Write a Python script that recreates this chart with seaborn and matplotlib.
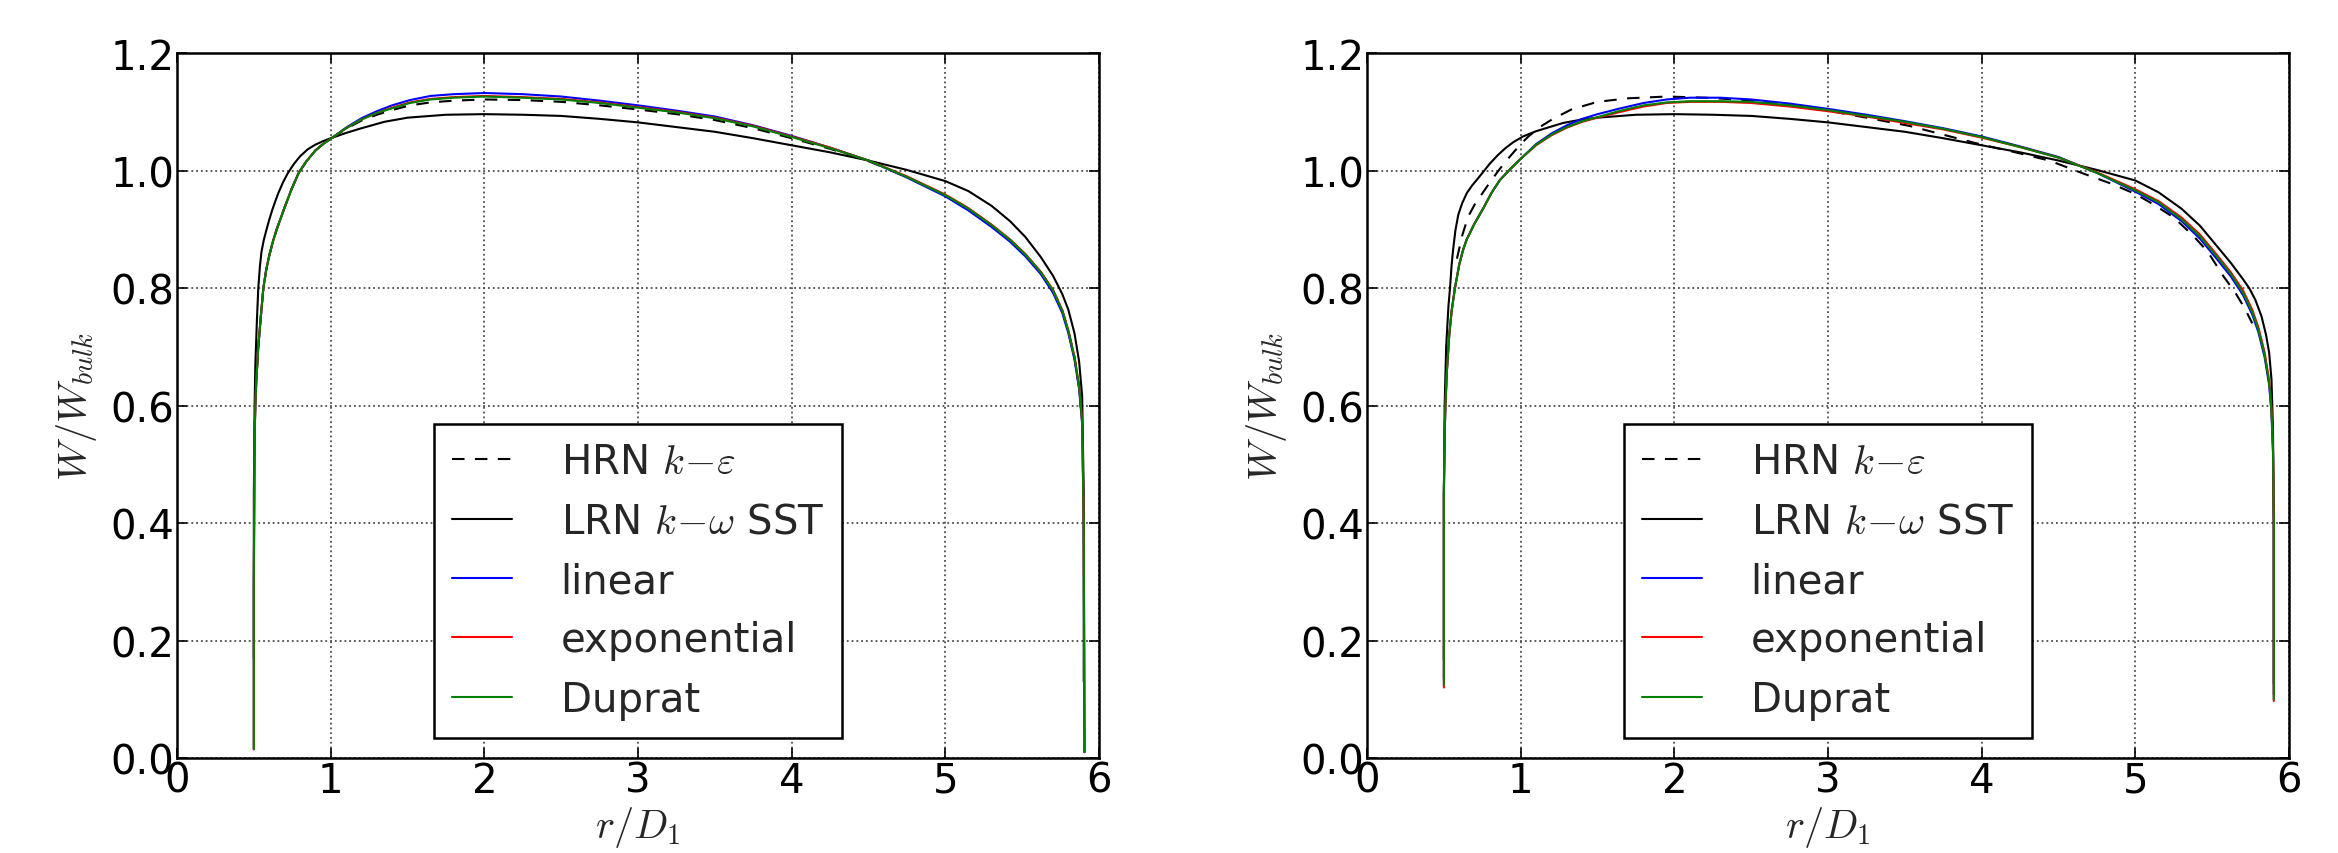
import matplotlib
matplotlib.use("Agg")
import matplotlib.pyplot as plt
import seaborn as sns

# radial positions r/D1 and profiles W/Wbulk
# ---- left panel ----
r_lrn_a = [0.50, 0.50, 0.505, 0.51, 0.514, 0.52, 0.529, 0.54, 0.55, 0.565, 0.583, 0.60,
           0.62, 0.64, 0.66, 0.69, 0.72, 0.76, 0.80, 0.85, 0.90, 0.95, 1.00, 1.10,
           1.20, 1.35, 1.50, 1.75, 2.00, 2.25, 2.50, 2.75, 3.00, 3.25, 3.50, 3.75,
           4.00, 4.25, 4.50, 4.75, 5.00, 5.15, 5.30, 5.42, 5.52, 5.62, 5.70, 5.76,
           5.80, 5.84, 5.87, 5.89, 5.90, 5.90]
w_lrn_a = [0.17, 0.45, 0.60, 0.67, 0.70, 0.745, 0.80, 0.838, 0.862, 0.882, 0.90, 0.916,
           0.933, 0.948, 0.962, 0.98, 0.995, 1.011, 1.024, 1.036, 1.044, 1.050, 1.055, 1.064,
           1.072, 1.083, 1.090, 1.095, 1.096, 1.095, 1.093, 1.088, 1.082, 1.074, 1.066, 1.055,
           1.043, 1.031, 1.017, 1.001, 0.982, 0.965, 0.940, 0.914, 0.887, 0.853, 0.821, 0.79,
           0.763, 0.723, 0.675, 0.615, 0.45, 0.13]

r_a = [0.50, 0.50, 0.505, 0.51, 0.515, 0.52, 0.529, 0.545, 0.562, 0.58, 0.60, 0.625,
       0.649, 0.70, 0.745, 0.79, 0.84, 0.90, 0.95, 1.00, 1.10, 1.20, 1.30, 1.40,
       1.516, 1.65, 1.80, 2.00, 2.25, 2.50, 2.75, 3.00, 3.25, 3.50, 3.75, 4.00,
       4.25, 4.50, 4.75, 5.00, 5.15, 5.30, 5.42, 5.52, 5.62, 5.70, 5.76, 5.80,
       5.84, 5.87, 5.89, 5.90, 5.905]
w_lin_a = [0.015, 0.30, 0.55, 0.60, 0.635, 0.66, 0.70, 0.75, 0.80, 0.83, 0.855, 0.88,
           0.90, 0.937, 0.968, 0.995, 1.015, 1.034, 1.045, 1.054, 1.073, 1.089, 1.101, 1.111,
           1.120, 1.127, 1.130, 1.132, 1.130, 1.126, 1.119, 1.111, 1.102, 1.092, 1.077, 1.059,
           1.039, 1.017, 0.988, 0.956, 0.932, 0.904, 0.879, 0.854, 0.824, 0.792, 0.758, 0.723,
           0.678, 0.628, 0.568, 0.40, 0.01]
w_exp_a = [0.015, 0.30, 0.55, 0.60, 0.635, 0.66, 0.70, 0.75, 0.80, 0.83, 0.855, 0.88,
           0.90, 0.937, 0.968, 0.995, 1.015, 1.034, 1.045, 1.054, 1.072, 1.087, 1.098, 1.107,
           1.116, 1.122, 1.125, 1.127, 1.125, 1.122, 1.116, 1.108, 1.100, 1.090, 1.076, 1.058,
           1.039, 1.017, 0.990, 0.959, 0.936, 0.908, 0.883, 0.858, 0.828, 0.797, 0.763, 0.728,
           0.683, 0.633, 0.573, 0.40, 0.01]
w_dup_a = [0.015, 0.30, 0.55, 0.60, 0.635, 0.66, 0.70, 0.75, 0.80, 0.83, 0.855, 0.88,
           0.90, 0.937, 0.968, 0.995, 1.015, 1.034, 1.045, 1.054, 1.072, 1.087, 1.098, 1.106,
           1.115, 1.121, 1.124, 1.126, 1.124, 1.121, 1.115, 1.107, 1.099, 1.089, 1.075, 1.057,
           1.038, 1.017, 0.989, 0.958, 0.935, 0.907, 0.882, 0.857, 0.827, 0.796, 0.762, 0.727,
           0.682, 0.632, 0.572, 0.40, 0.01]
r_hrn_a = [0.52, 0.529, 0.545, 0.562, 0.58, 0.60, 0.625, 0.649, 0.70, 0.745, 0.79, 0.84,
           0.90, 0.95, 1.00, 1.10, 1.20, 1.30, 1.40, 1.516, 1.65, 1.80, 2.00, 2.25,
           2.50, 2.75, 3.00, 3.25, 3.50, 3.75, 4.00, 4.25, 4.50, 4.75, 5.00, 5.15,
           5.30, 5.42, 5.52, 5.62, 5.70, 5.76, 5.80, 5.84, 5.87, 5.89]
w_hrn_a = [0.66, 0.70, 0.75, 0.80, 0.83, 0.855, 0.88, 0.90, 0.937, 0.968, 0.995, 1.015,
           1.034, 1.045, 1.054, 1.071, 1.085, 1.095, 1.103, 1.111, 1.116, 1.119, 1.121, 1.120,
           1.117, 1.111, 1.104, 1.096, 1.086, 1.072, 1.055, 1.037, 1.016, 0.989, 0.958, 0.935,
           0.907, 0.882, 0.857, 0.827, 0.796, 0.762, 0.727, 0.682, 0.632, 0.572]

# ---- right panel ----
r_lrn_b = [0.50, 0.50, 0.505, 0.515, 0.53, 0.54, 0.55, 0.56, 0.575, 0.594, 0.62, 0.65,
           0.685, 0.72, 0.76, 0.80, 0.85, 0.90, 0.95, 1.015, 1.10, 1.20, 1.276, 1.40,
           1.50, 1.75, 2.00, 2.25, 2.50, 2.75, 3.00, 3.25, 3.50, 3.75, 4.00, 4.25,
           4.50, 4.75, 5.00, 5.15, 5.30, 5.42, 5.528, 5.62, 5.70, 5.74, 5.78, 5.82,
           5.85, 5.87, 5.885, 5.895, 5.90, 5.90]
w_lrn_b = [0.167, 0.45, 0.60, 0.70, 0.77, 0.80, 0.838, 0.865, 0.898, 0.925, 0.945, 0.962,
           0.975, 0.986, 0.999, 1.012, 1.026, 1.038, 1.048, 1.058, 1.067, 1.075, 1.081, 1.087,
           1.090, 1.095, 1.096, 1.095, 1.093, 1.088, 1.082, 1.074, 1.066, 1.055, 1.043, 1.031,
           1.017, 1.001, 0.983, 0.963, 0.935, 0.906, 0.872, 0.843, 0.815, 0.80, 0.78, 0.752,
           0.72, 0.69, 0.645, 0.56, 0.40, 0.127]

r_b = [0.50, 0.50, 0.50, 0.505, 0.51, 0.52, 0.535, 0.55, 0.572, 0.60, 0.625, 0.649,
       0.70, 0.755, 0.81, 0.865, 0.93, 1.00, 1.10, 1.20, 1.30, 1.40, 1.50, 1.65,
       1.80, 1.95, 2.10, 2.30, 2.50, 2.75, 3.00, 3.25, 3.50, 3.75, 4.00, 4.25,
       4.50, 4.75, 5.00, 5.15, 5.30, 5.42, 5.528, 5.62, 5.70, 5.76, 5.80, 5.84,
       5.87, 5.885, 5.895, 5.90, 5.90, 5.90]
w_lin_b = [0.135, 0.30, 0.45, 0.55, 0.60, 0.66, 0.72, 0.76, 0.80, 0.84, 0.865, 0.883,
           0.91, 0.935, 0.962, 0.984, 1.002, 1.02, 1.045, 1.063, 1.077, 1.088, 1.096, 1.106,
           1.115, 1.121, 1.124, 1.124, 1.121, 1.114, 1.105, 1.095, 1.084, 1.072, 1.058, 1.041,
           1.023, 0.996, 0.964, 0.943, 0.914, 0.884, 0.850, 0.820, 0.788, 0.755, 0.725, 0.683,
           0.635, 0.588, 0.52, 0.40, 0.20, 0.108]
w_exp_b = [0.12, 0.30, 0.45, 0.55, 0.60, 0.66, 0.72, 0.76, 0.80, 0.84, 0.865, 0.883,
           0.91, 0.935, 0.962, 0.984, 1.002, 1.02, 1.043, 1.060, 1.073, 1.083, 1.090, 1.100,
           1.109, 1.115, 1.117, 1.117, 1.115, 1.109, 1.101, 1.092, 1.081, 1.070, 1.056, 1.040,
           1.022, 0.997, 0.968, 0.948, 0.920, 0.891, 0.857, 0.827, 0.796, 0.763, 0.733, 0.691,
           0.643, 0.596, 0.53, 0.40, 0.20, 0.097]
w_dup_b = [0.125, 0.30, 0.45, 0.55, 0.60, 0.66, 0.72, 0.76, 0.80, 0.84, 0.865, 0.883,
           0.91, 0.935, 0.962, 0.984, 1.002, 1.02, 1.044, 1.061, 1.074, 1.084, 1.091, 1.102,
           1.111, 1.116, 1.118, 1.118, 1.117, 1.111, 1.103, 1.093, 1.083, 1.071, 1.057, 1.040,
           1.022, 0.996, 0.966, 0.946, 0.917, 0.888, 0.854, 0.824, 0.792, 0.759, 0.729, 0.687,
           0.639, 0.592, 0.525, 0.40, 0.20, 0.10]
r_hrn_b = [0.585, 0.62, 0.657, 0.70, 0.755, 0.80, 0.85, 0.90, 0.95, 1.00, 1.05, 1.13,
           1.21, 1.33, 1.50, 1.70, 1.95, 2.20, 2.40, 2.70, 3.00, 3.25, 3.53, 3.75,
           4.00, 4.22, 4.44, 4.66, 4.85, 5.00, 5.12, 5.25, 5.376, 5.47, 5.57, 5.65,
           5.71, 5.76]
w_hrn_b = [0.85, 0.89, 0.921, 0.942, 0.963, 0.98, 0.998, 1.015, 1.03, 1.045, 1.058, 1.075,
           1.088, 1.104, 1.117, 1.123, 1.126, 1.124, 1.121, 1.113, 1.102, 1.090, 1.076, 1.061,
           1.044, 1.031, 1.017, 0.995, 0.977, 0.960, 0.942, 0.920, 0.889, 0.862, 0.821, 0.792,
           0.766, 0.74]

labels = [r"HRN $k\!-\!\varepsilon$", r"LRN $k\!-\!\omega$ SST", "linear", "exponential", "Duprat"]
x_ticks = [0, 1, 2, 3, 4, 5, 6]
y_ticks = [0.0, 0.2, 0.4, 0.6, 0.8, 1.0, 1.2]
y_tick_labels = ["0.0", "0.2", "0.4", "0.6", "0.8", "1.0", "1.2"]

panels = [
    (r_hrn_a, w_hrn_a, r_lrn_a, w_lrn_a, r_a, w_lin_a, w_exp_a, w_dup_a),
    (r_hrn_b, w_hrn_b, r_lrn_b, w_lrn_b, r_b, w_lin_b, w_exp_b, w_dup_b),
]

sns.set_style("ticks")
plt.rcParams.update({
    "font.family": ["DejaVu Sans"],
    "mathtext.fontset": "cm",
    "axes.edgecolor": "black",
    "axes.linewidth": 1.8,
    "xtick.direction": "in",
    "ytick.direction": "in",
    "xtick.top": True,
    "ytick.right": True,
    "xtick.major.size": 7,
    "ytick.major.size": 7,
    "xtick.major.width": 1.2,
    "ytick.major.width": 1.2,
    "xtick.color": "black",
    "ytick.color": "black",
    "xtick.major.pad": 2,
    "ytick.major.pad": 2,
})

fig = plt.figure(figsize=(23.38, 8.54), dpi=100)
lefts = [0.0757, 0.5847]
fs = 29
lw = 1.5

for left, (rh, wh, rl, wl, rc, wlin, wexp, wdup) in zip(lefts, panels):
    ax = fig.add_axes([left, 0.1112, 0.3944, 0.8255])
    sns.lineplot(x=rh, y=wh, ax=ax, color="black", linestyle=(0, (6, 5)), lw=lw,
                 sort=False, estimator=None, label=labels[0])
    sns.lineplot(x=rl, y=wl, ax=ax, color="black", lw=lw, sort=False, estimator=None,
                 label=labels[1])
    sns.lineplot(x=rc, y=wlin, ax=ax, color="blue", lw=lw, sort=False, estimator=None,
                 label=labels[2])
    sns.lineplot(x=rc, y=wexp, ax=ax, color="red", lw=lw, sort=False, estimator=None,
                 label=labels[3])
    sns.lineplot(x=rc, y=wdup, ax=ax, color="green", lw=lw, sort=False, estimator=None,
                 label=labels[4])

    ax.set_xlim(0, 6)
    ax.set_ylim(0, 1.2)
    ax.set_xticks(x_ticks)
    ax.set_yticks(y_ticks)
    ax.set_yticklabels(y_tick_labels)
    ax.tick_params(labelsize=fs)
    ax.grid(True, linestyle=":", color="0.3", linewidth=1.3)
    ax.set_xlabel(r"$r/D_1$", fontsize=fs, labelpad=2)
    ax.set_ylabel(r"$W/W_{bulk}$", fontsize=fs, labelpad=8)

    leg = ax.legend(loc="lower center", fontsize=fs, fancybox=False, framealpha=1,
                    edgecolor="black", handlelength=1.5, handletextpad=1.2,
                    labelspacing=0.48, borderpad=0.45)
    leg.get_frame().set_linewidth(1.8)

fig.savefig("out.png", dpi=100)
